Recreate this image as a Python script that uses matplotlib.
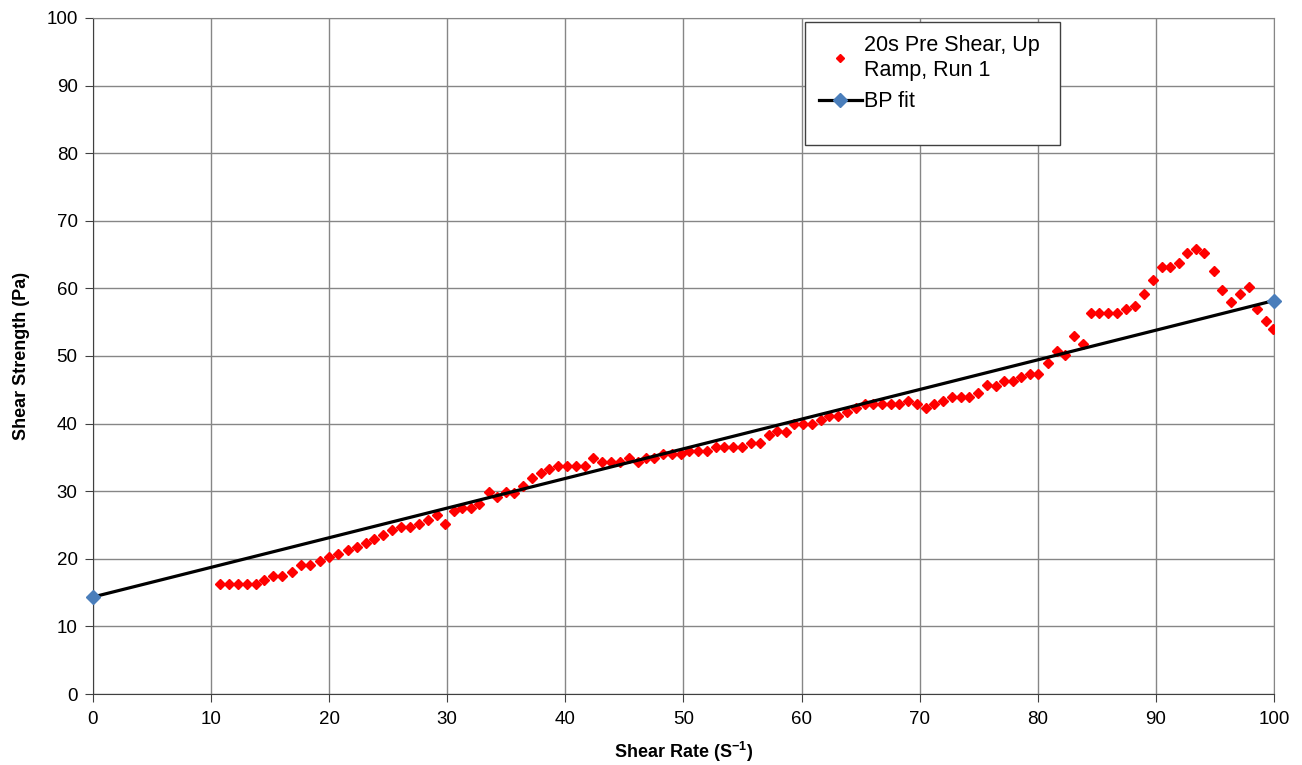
import matplotlib.pyplot as plt
from matplotlib.patches import Rectangle
from matplotlib.lines import Line2D

plt.rcParams['font.family'] = ['Liberation Sans', 'DejaVu Sans']

# measured points, 20s pre shear, up ramp, run 1
shear_rate = [10.75, 11.52, 12.30, 13.07, 13.80, 14.51, 15.27, 16.03, 16.85, 17.61,
              18.37, 19.22, 19.98, 20.77, 21.62, 22.38, 23.12, 23.82, 24.58, 25.35,
              26.10, 26.84, 27.58, 28.34, 29.10, 29.80, 30.57, 31.27, 32.00, 32.71,
              33.53, 34.18, 34.94, 35.68, 36.44, 37.15, 37.91, 38.64, 39.40, 40.11,
              40.87, 41.66, 42.36, 43.13, 43.86, 44.62, 45.39, 46.12, 46.83, 47.53,
              48.29, 49.05, 49.79, 50.49, 51.26, 52.01, 52.73, 53.46, 54.22, 54.98,
              55.69, 56.45, 57.20, 57.92, 58.65, 59.38, 60.14, 60.85, 61.62, 62.35,
              63.11, 63.87, 64.61, 65.37, 66.07, 66.78, 67.54, 68.27, 69.04, 69.74,
              70.50, 71.24, 72.00, 72.71, 73.47, 74.20, 74.97, 75.73, 76.43, 77.17,
              77.90, 78.60, 79.34, 80.05, 80.84, 81.60, 82.33, 83.07, 83.80, 84.50,
              85.21, 85.97, 86.73, 87.47, 88.23, 88.99, 89.73, 90.49, 91.19, 91.96,
              92.66, 93.40, 94.10, 94.92, 95.60, 96.36, 97.12, 97.86, 98.56, 99.30,
              99.94]
shear_strength = [16.3, 16.3, 16.3, 16.3, 16.3, 16.9, 17.4, 17.4, 18.0, 19.1,
                  19.1, 19.7, 20.2, 20.7, 21.3, 21.8, 22.4, 23.0, 23.5, 24.2,
                  24.7, 24.7, 25.2, 25.8, 26.5, 25.2, 27.0, 27.5, 27.5, 28.1,
                  29.9, 29.2, 29.9, 29.8, 30.8, 32.0, 32.7, 33.3, 33.7, 33.7,
                  33.7, 33.7, 34.9, 34.3, 34.3, 34.3, 34.9, 34.3, 34.9, 34.9,
                  35.5, 35.5, 35.5, 36.0, 36.0, 36.0, 36.6, 36.6, 36.6, 36.6,
                  37.1, 37.1, 38.3, 38.9, 38.8, 39.9, 39.9, 39.9, 40.5, 41.1,
                  41.1, 41.7, 42.3, 42.85, 42.85, 42.85, 42.85, 42.85, 43.4, 42.85,
                  42.3, 42.85, 43.4, 44.0, 44.0, 44.0, 44.5, 45.7, 45.6, 46.3,
                  46.3, 46.9, 47.4, 47.4, 48.9, 50.8, 50.15, 53.0, 51.8, 56.3,
                  56.3, 56.3, 56.3, 56.9, 57.4, 59.1, 61.3, 63.1, 63.1, 63.7,
                  65.3, 65.9, 65.3, 62.5, 59.7, 58.0, 59.1, 60.25, 56.9, 55.2,
                  54.0]

# Bingham plastic fit end points
fit_rate = [0, 100]
fit_strength = [14.35, 58.2]

fig = plt.figure(figsize=(13.02, 7.65), dpi=100)
ax = fig.add_axes([0.0714, 0.0928, 0.9071, 0.8837])

ax.plot(shear_rate, shear_strength, linestyle='none', marker='D', markersize=5.5,
        color='#ff0000', zorder=3)
ax.plot(fit_rate, fit_strength, color='black', linewidth=2.3, marker='D',
        markersize=7.5, markerfacecolor='#4a7ebb', markeredgecolor='#4a7ebb',
        zorder=4, clip_on=False)

ax.set_xlim(0, 100)
ax.set_ylim(0, 100)
ax.set_xticks(range(0, 101, 10))
ax.set_yticks(range(0, 101, 10))
ax.grid(True, color='#868686', linewidth=1.0)
ax.set_axisbelow(True)
for s in ax.spines.values():
    s.set_color('#868686')
ax.spines['left'].set_color('#404040')
ax.spines['bottom'].set_color('#404040')
ax.tick_params(axis='both', labelsize=13.5, length=6, color='#404040')
ax.tick_params(axis='x', pad=6)
ax.tick_params(axis='y', pad=5)

ax.set_xlabel('Shear Rate (S$^{\\mathregular{-1}}$)', fontsize=13, fontweight='bold', labelpad=9)
ax.set_ylabel('Shear Strength (Pa)', fontsize=13, fontweight='bold', labelpad=12)

# legend, drawn in a fixed box like the spreadsheet one
ax.add_patch(Rectangle((0.603, 0.812), 0.216, 0.182, transform=ax.transAxes,
                       facecolor='white', edgecolor='#404040', linewidth=1.0, zorder=5))
handles = [Line2D([], [], linestyle='none', marker='D', markersize=4, color='#ff0000'),
           Line2D([], [], color='black', linewidth=2.3, marker='D', markersize=7,
                  markerfacecolor='#4a7ebb', markeredgecolor='#4a7ebb')]
labels = ['20s Pre Shear, Up\nRamp, Run 1', 'BP fit']
leg = ax.legend(handles, labels, loc='upper left', bbox_to_anchor=(0.598, 1.003), frameon=False,
                fontsize=15.5, handlelength=2.0, handletextpad=0.1, labelspacing=0.5)
leg.set_zorder(6)

fig.savefig('out.png', dpi=100)
